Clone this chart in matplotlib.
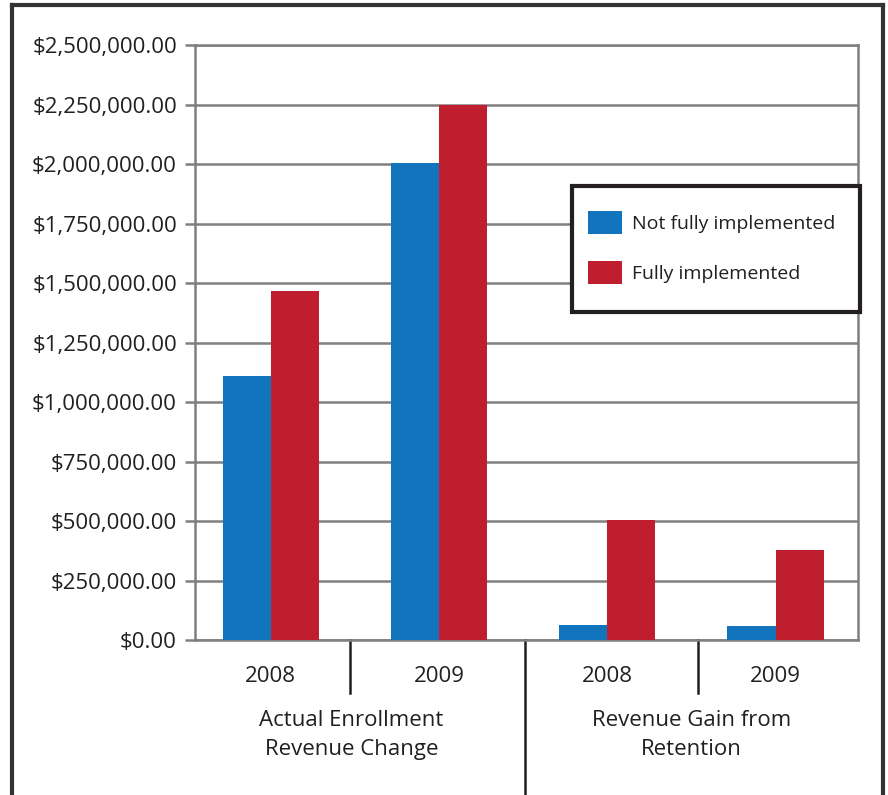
import matplotlib.pyplot as plt
from matplotlib.patches import Patch, Rectangle
from matplotlib.lines import Line2D
import matplotlib.transforms as mtransforms
from matplotlib.ticker import FuncFormatter
import numpy as np

plt.rcParams['font.family'] = ['Open Sans', 'DejaVu Sans']

years = ["2008", "2009", "2008", "2009"]
groups = ["Actual Enrollment\nRevenue Change", "Revenue Gain from\nRetention"]
not_fully = [1108000, 2004000, 64000, 60000]
fully = [1466000, 2250000, 505000, 378000]
series_names = ["Not fully implemented", "Fully implemented"]

blue = "#1174bc"
red = "#be1e2d"
gray = "#7f7f7f"
ink = "#231f20"

W, H = 888, 795
fig = plt.figure(figsize=(W/100, H/100), dpi=100)
ax = fig.add_axes([195/W, 1-640/H, (858-195)/W, (640-45)/H])

x = np.arange(len(years))
w = 0.286
ax.bar(x - w/2, not_fully, w, color=blue, zorder=3)
ax.bar(x + w/2, fully, w, color=red, zorder=3)

ax.set_xlim(-0.45, 3.49)
ax.set_ylim(0, 2500000)
ax.set_yticks(np.arange(0, 2500001, 250000))
ax.yaxis.set_major_formatter(FuncFormatter(lambda v, p: "${:,.2f}".format(v)))
ax.yaxis.grid(True, color=gray, linewidth=1.8, zorder=0)
ax.tick_params(axis='y', length=7, width=1.8, color=gray, labelsize=16, pad=6, labelcolor=ink)
ax.set_xticks(x)
ax.set_xticklabels(years)
ax.tick_params(axis='x', length=0, labelsize=16, pad=19, labelcolor=ink)
for s in ax.spines.values():
    s.set_color(gray)
    s.set_linewidth(1.8)

# separators under the axis
trans = mtransforms.blended_transform_factory(ax.transData, ax.transAxes)
for xs, depth in [(0.47, -0.089), (1.51, -0.27), (2.54, -0.089)]:
    ax.plot([xs, xs], [0, depth], color=ink, linewidth=1.8, transform=trans, clip_on=False)

for xc, lab in zip([0.48, 2.5], groups):
    ax.text(xc, -0.159, lab, transform=trans, ha='center', va='center',
            fontsize=16, color=ink, linespacing=1.5)

# legend box drawn by hand
fig.add_artist(Rectangle((572/W, 1-312/H), (860-572)/W, (312-186)/H, transform=fig.transFigure,
                         facecolor='white', edgecolor=ink, linewidth=3, zorder=4))
handles = [Patch(facecolor=blue, edgecolor='none'), Patch(facecolor=red, edgecolor='none')]
leg = fig.legend(handles, series_names, loc='upper left', bbox_to_anchor=(588/W, 1-211/H),
                 frameon=False, fontsize=14, handlelength=1.75, handleheight=1.45,
                 labelspacing=1.4, borderpad=0, handletextpad=0.5, borderaxespad=0)
leg.set_zorder(5)
for t in leg.get_texts():
    t.set_color(ink)

# outer frame
fc = "#333333"
fig.add_artist(Line2D([12/W, 12/W], [0, 1-5/H], color=fc, linewidth=3))
fig.add_artist(Line2D([883/W, 883/W], [0, 1-5/H], color=fc, linewidth=3))
fig.add_artist(Line2D([12/W, 883/W], [1-5/H, 1-5/H], color=fc, linewidth=3))

fig.savefig("out.png", dpi=100)
